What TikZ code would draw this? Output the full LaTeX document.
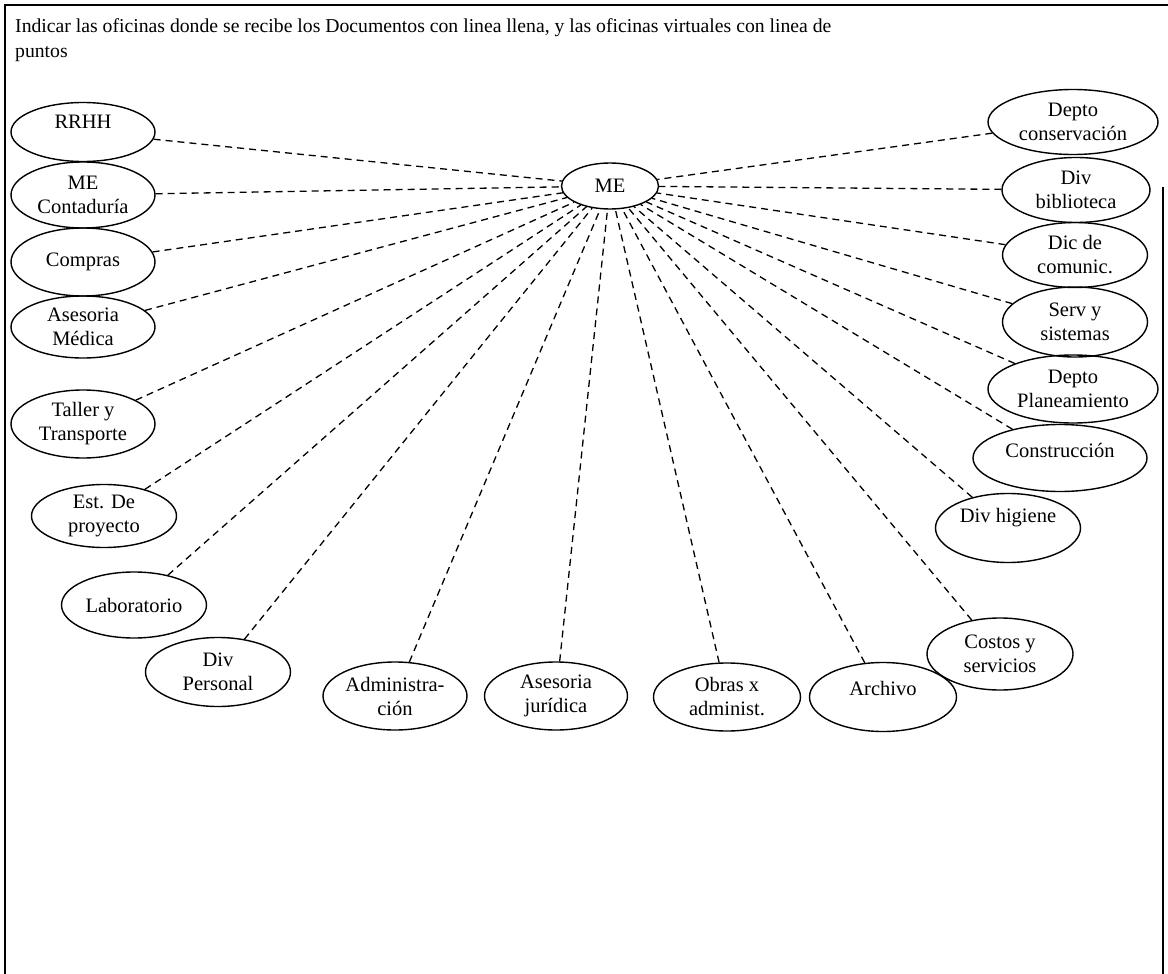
\documentclass[tikz,border=0pt]{standalone}
\usepackage{fontspec}
\setmainfont{Liberation Serif}
\usetikzlibrary{shapes.geometric}
\newcommand{\ovalfont}{\fontsize{20.5}{24}\selectfont}
\newcommand{\titlefont}{\fontsize{19.7}{22}\selectfont}
\tikzset{
  oval/.style={draw, ellipse, inner sep=0pt, line width=1.4pt, align=center, font=\ovalfont},
  lbl/.style={inner sep=0pt, align=center, font=\ovalfont},
  link/.style={line width=1.3pt, dash pattern=on 7pt off 5pt},
  frame/.style={line width=1.4pt},
}
\begin{document}
\begin{tikzpicture}[x=1pt, y=-1pt]
\useasboundingbox (0,0) rectangle (1168,974);
\fill[white] (0,0) rectangle (1168,974);
% frame
\draw[frame] (5,974) -- (5,5) -- (1168,5);
\draw[frame] (1163,187) -- (1163,974);
% title
\node[anchor=base west, inner sep=0pt, font=\titlefont] (t1) at (15,33) {Indicar las oficinas donde se recibe los Documentos con linea llena, y las oficinas virtuales con linea de};
\node[anchor=base west, inner sep=0pt, font=\titlefont] (t2) at (15,58) {puntos};
% centre
\node[oval, minimum width=97, minimum height=46] (ME) at (610,186) {ME};
% left column
\node[oval, minimum width=144, minimum height=59] (RRHH) at (83,132) {};
\node[lbl] (RRHHt) at (83,122) {RRHH};
\node[oval, minimum width=144, minimum height=66] (MEC) at (83,195) {ME\\Contaduría};
\node[oval, minimum width=144, minimum height=68] (Comp) at (83,262) {Compras};
\node[oval, minimum width=144, minimum height=62] (AsM) at (83,327) {Asesoria\\Médica};
\node[oval, minimum width=144, minimum height=68] (Tall) at (83,424) {Taller y\\Transporte};
\node[oval, minimum width=145, minimum height=63] (Est) at (104,516) {Est. De\\proyecto};
\node[oval, minimum width=145, minimum height=66] (Lab) at (134,605) {Laboratorio};
\node[oval, minimum width=145, minimum height=69] (DivP) at (218,672) {Div\\Personal};
% bottom row
\node[oval, minimum width=144, minimum height=68] (Adm) at (395,696) {Administra-\\ción};
\node[oval, minimum width=143, minimum height=68] (AsJ) at (556,696) {Asesoria\\jurídica};
\node[oval, minimum width=147, minimum height=68] (Obr) at (727,697) {Obras x\\administ.};
\node[oval, minimum width=147, minimum height=69] (Arch) at (883,697) {};
\node[lbl] (Archt) at (883,688) {Archivo};
\node[oval, minimum width=146, minimum height=72] (Cost) at (1000,654) {Costos y\\servicios};
% right column
\node[oval, minimum width=145, minimum height=69] (DivH) at (1008,528) {};
\node[lbl] (DivHt) at (1008,518) {Div higiene};
\node[oval, minimum width=174, minimum height=67] (Cons) at (1060,458) {};
\node[lbl] (Const) at (1060,450) {Construcción};
\node[oval, minimum width=170, minimum height=68] (DepP) at (1073,389) {Depto\\Planeamiento};
\node[oval, minimum width=145, minimum height=70] (Serv) at (1075,322) {Serv y\\sistemas};
\node[oval, minimum width=145, minimum height=65] (Dic) at (1075,255) {Dic de\\comunic.};
\node[oval, minimum width=148, minimum height=65] (DivB) at (1076,190) {Div\\biblioteca};
\node[oval, minimum width=170, minimum height=65] (DepC) at (1073,122) {Depto\\conservación};
% connectors
\foreach \n in {RRHH,MEC,Comp,AsM,Tall,Est,Lab,DivP,Adm,AsJ,Obr,Arch,Cost,DivH,Cons,DepP,Serv,Dic,DivB,DepC}
  \draw[link] (\n) -- (ME);
\end{tikzpicture}
\end{document}
